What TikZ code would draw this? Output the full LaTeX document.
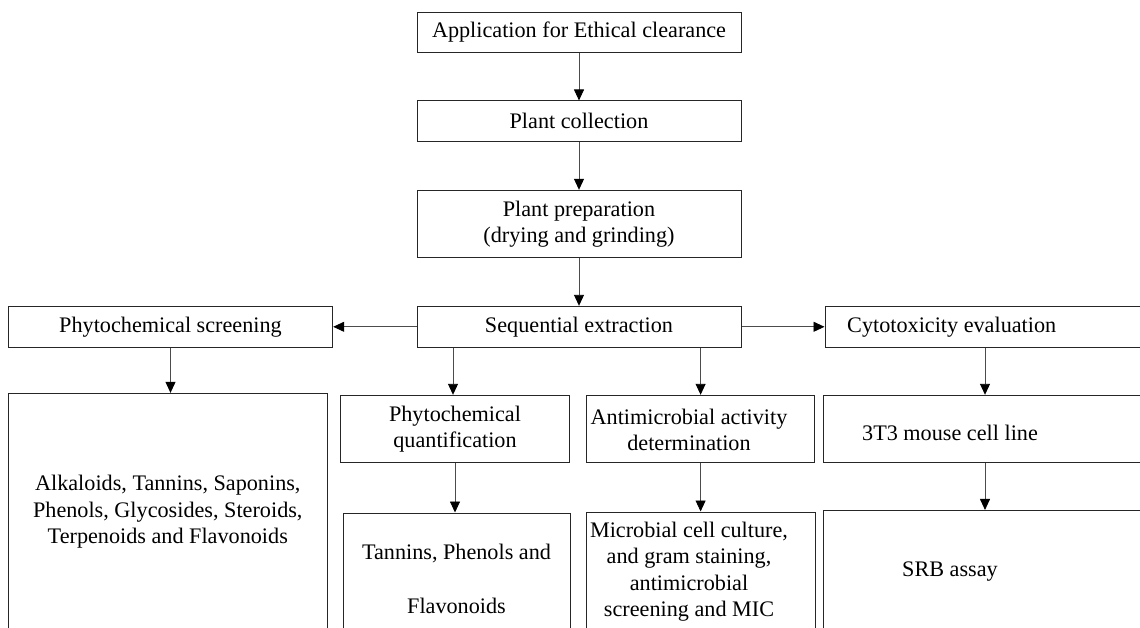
\documentclass[tikz,border=0pt]{standalone}
\usepackage{fontspec}
\setmainfont{Liberation Serif}
\usetikzlibrary{arrows.meta}
\tikzset{
  box/.style={draw=black!85, line width=1pt, inner sep=0pt, align=center},
  txt/.style={align=center, inner sep=0pt},
  arr/.style={draw=black!70, line width=0.9pt, -{Triangle[length=11pt,width=10pt,color=black]}}
}
\begin{document}
\begin{tikzpicture}[x=1pt,y=-1pt,font=\fontsize{22.2}{26.5}\selectfont]
\useasboundingbox (0,0) rectangle (1140,628);
\clip (0,0) rectangle (1140,628);
\coordinate (rc) at (985,0);
% top chain
\node[box, minimum width=324pt, minimum height=40pt] (app) at (579,32.3) {Application for Ethical clearance};
\node[box, minimum width=324pt, minimum height=40.7pt] (coll) at (579,121.3) {Plant collection};
\node[box, minimum width=324pt, minimum height=67.4pt] (prep) at (579,224) {Plant preparation\\(drying and grinding)};
% middle row
\node[box, minimum width=324.4pt, minimum height=41pt] (screen) at (170.5,326.8) {Phytochemical screening};
\node[box, minimum width=324pt, minimum height=41pt] (seq) at (579,326.8) {Sequential extraction};
\node[box, minimum width=360pt, minimum height=41pt] (cyto) at (1005,326.8) {};
\node[txt] (cytot) at (951.7,326.8) {Cytotoxicity evaluation};
% third row
\node[box, minimum width=319pt, minimum height=236.7pt] (alk) at (167.8,511.7) {Alkaloids, Tannins, Saponins,\\Phenols, Glycosides, Steroids,\\Terpenoids and Flavonoids};
\node[box, minimum width=228.6pt, minimum height=67.4pt] (quant) at (455,429) {Phytochemical\\quantification};
\node[box, minimum width=228.2pt, minimum height=67.4pt] (anti) at (700.6,429) {};
\node[txt] (antit) at (689,429.7) {Antimicrobial activity\\determination};
\node[box, minimum width=364pt, minimum height=67.4pt] (t3) at (1005,429) {};
\node[txt] (t3t) at (950,433) {3T3 mouse cell line};
% bottom row
\node[box, minimum width=227pt, minimum height=132pt] (tan) at (456.5,579) {};
\node[txt, font=\fontsize{22.2}{54}\selectfont] (tant) at (456.5,579) {Tannins, Phenols and\\Flavonoids};
\node[box, minimum width=229pt, minimum height=120pt] (mic) at (700.5,572) {};
\node[txt] (mict) at (689,571.5) {Microbial cell culture,\\and gram staining,\\antimicrobial\\screening and MIC};
\node[box, minimum width=364pt, minimum height=122.5pt] (srb) at (1005,571.7) {};
\node[txt] (srbt) at (950,571.7) {SRB assay};
% connectors
\draw[arr] (app.south) -- (coll.north);
\draw[arr] (coll.south) -- (prep.north);
\draw[arr] (prep.south) -- (seq.north);
\draw[arr] (seq.west) -- (screen.east);
\draw[arr] (seq.east) -- (cyto.west);
\draw[arr] (screen.south) -- (screen.south |- alk.north);
\draw[arr] ([xshift=-2pt]seq.south -| quant.north) -- ([xshift=-2pt]quant.north);
\draw[arr] (seq.south -| anti.north) -- (anti.north);
\draw[arr] (cyto.south -| rc) -- (t3.north -| rc);
\draw[arr] (quant.south) -- (quant.south |- tan.north);
\draw[arr] (anti.south) -- (anti.south |- mic.north);
\draw[arr] (t3.south -| rc) -- (srb.north -| rc);
\end{tikzpicture}
\end{document}
